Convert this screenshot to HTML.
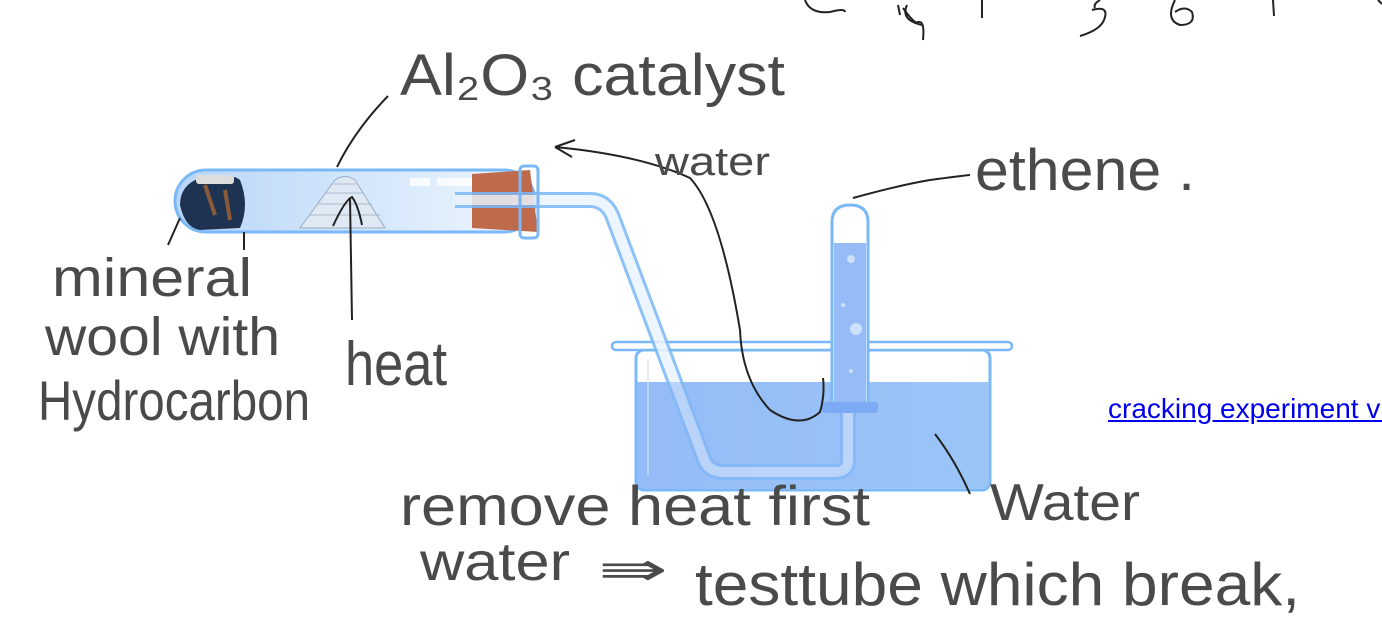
<!DOCTYPE html>
<html><head><meta charset="utf-8"><style>
html,body{margin:0;padding:0;background:#fff;width:1382px;height:624px;overflow:hidden}
svg{display:block}
.h{font-family:"DejaVu Sans ExtraLight","Liberation Sans Narrow","Liberation Sans",sans-serif;fill:#4a4a4a;font-weight:200}
a{font-family:"Liberation Sans",sans-serif;font-size:28px;color:#00e;text-decoration:underline;position:absolute;left:1108px;top:393px;white-space:nowrap}
</style></head><body>
<svg width="1382" height="624" viewBox="0 0 1382 624">
<defs>
<linearGradient id="tg" x1="0" x2="1"><stop offset="0" stop-color="#b8d6f8"/><stop offset="1" stop-color="#eef6fe"/></linearGradient>
<linearGradient id="wg" x1="0" x2="1"><stop offset="0" stop-color="#8fb8f6"/><stop offset="1" stop-color="#9ccbf6"/></linearGradient>
</defs>
<g stroke="#222" stroke-width="2" fill="none">
<path d="M805 0 Q810 14 830 12 Q845 8 845 12"/>
<path d="M898 5 L900 15"/><path d="M903 8 Q915 25 918 22 Q925 20 923 40"/><path d="M907 5 Q900 20 922 25"/>
<path d="M982 0 L982 18"/>
<path d="M1100 0 Q1093 4 1095 8"/><path d="M1092 10 Q1110 5 1104 20 Q1100 30 1080 36"/>
<path d="M1175 0 Q1165 20 1180 25 Q1196 25 1192 12 Q1185 5 1175 12"/>
<path d="M1273 0 L1274 16"/><path d="M1378 0 L1382 4"/>
</g>
<rect x="636" y="350" width="354" height="140" rx="8" fill="#fff" stroke="#7ab8f8" stroke-width="3"/>
<path d="M637 382 L989 382 L989 482 Q989 489 981 489 L645 489 Q637 489 637 482Z" fill="url(#wg)" opacity=".9"/>
<rect x="612" y="342" width="400" height="8" rx="4" fill="#fff" stroke="#7ab8f8" stroke-width="2.5"/>
<path d="M648 360 L648 475" stroke="#e4effd" stroke-width="2"/>
<rect x="175" y="170" width="360" height="62" rx="31" fill="url(#tg)" stroke="#7ab8f8" stroke-width="3"/>
<rect x="410" y="178" width="20" height="8" fill="#fff" opacity=".8"/><rect x="437" y="178" width="45" height="8" fill="#fff" opacity=".8"/>
<path d="M200 178 Q180 185 180 205 Q185 228 200 230 L240 228 Q250 205 240 180 Q230 172 200 178Z" fill="#1e3352"/>
<path d="M205 185 L215 215 M225 190 L230 220" stroke="#8a5a38" stroke-width="4"/>
<rect x="196" y="175" width="38" height="9" fill="#ddd" rx="3"/>
<path d="M300 228 L335 180 Q345 173 355 180 L385 228Z" fill="#dfe9f3" stroke="#97adc4" stroke-width="1"/>
<g stroke="#aabbd0" stroke-width="1" fill="none"><path d="M310 215 h70 M318 204 h54 M326 193 h38 M334 184 h22"/></g>
<path d="M472 174 L530 170 L538 232 L472 228Z" fill="#bf6a4a"/>
<g opacity=".85">
<path d="M455 200 L590 200 Q605 200 612 215 L705 462 Q710 472 725 472 L835 472 Q848 472 848 460 L848 405" fill="none" stroke="#7ab8f8" stroke-width="16"/>
<path d="M455 200 L590 200 Q605 200 612 215 L705 462 Q710 472 725 472 L835 472 Q848 472 848 460 L848 405" fill="none" stroke="#eaf4fe" stroke-width="10"/>
</g>
<rect x="637" y="382" width="352" height="106" fill="#8fb8f6" opacity=".45"/>
<rect x="520" y="166" width="18" height="72" rx="4" fill="none" stroke="#7ab8f8" stroke-width="3"/>
<path d="M832 410 L832 222 Q832 205 850 205 Q868 205 868 222 L868 410Z" fill="#fff" stroke="#7ab8f8" stroke-width="3"/>
<rect x="834" y="243" width="32" height="166" fill="#96bbf6"/>
<rect x="822" y="402" width="56" height="11" rx="3" fill="#7caaf4"/>
<circle cx="851" cy="259" r="4" fill="#cde0fc"/><circle cx="856" cy="329" r="6" fill="#cde0fc"/><circle cx="843" cy="305" r="2" fill="#cde0fc"/><circle cx="851" cy="371" r="2" fill="#cde0fc"/>
<g stroke="#222" stroke-width="2" fill="none">
<path d="M388 96 Q355 130 337 167"/>
<path d="M180 218 L168 245"/>
<path d="M244 232 L244 250"/>
<path d="M350 198 L352 320"/><path d="M333 226 Q345 200 352 197 Q358 205 362 225"/>
<path d="M555 147 Q640 155 690 178 Q720 210 740 330 Q742 380 770 410 Q800 430 820 412 Q825 395 823 378"/>
<path d="M555 147 L575 140 M555 147 L572 157"/>
<path d="M853 198 Q900 185 930 180 Q960 176 970 175"/>
<path d="M935 434 Q955 460 970 494"/>
</g>
<text class="h" x="400" y="95" font-size="58" textLength="385" lengthAdjust="spacingAndGlyphs">Al₂O₃ catalyst</text>
<text class="h" x="655" y="175" font-size="40" textLength="115" lengthAdjust="spacingAndGlyphs">water</text>
<text class="h" x="975" y="190" font-size="58" textLength="220" lengthAdjust="spacingAndGlyphs">ethene .</text>
<text class="h" x="52" y="296" font-size="54" textLength="200" lengthAdjust="spacingAndGlyphs">mineral</text>
<text class="h" x="45" y="355" font-size="54" textLength="235" lengthAdjust="spacingAndGlyphs">wool with</text>
<text class="h" x="38" y="420" font-size="56" textLength="272" lengthAdjust="spacingAndGlyphs">Hydrocarbon</text>
<text class="h" x="345" y="385" font-size="62" textLength="102" lengthAdjust="spacingAndGlyphs">heat</text>
<text class="h" x="400" y="525" font-size="56" textLength="470" lengthAdjust="spacingAndGlyphs">remove heat first</text>
<text class="h" x="990" y="520" font-size="52" textLength="150" lengthAdjust="spacingAndGlyphs">Water</text>
<text class="h" x="420" y="580" font-size="54" textLength="150" lengthAdjust="spacingAndGlyphs">water</text>
<text class="h" x="598" y="585" font-size="46" textLength="70" lengthAdjust="spacingAndGlyphs">⇛</text>
<text class="h" x="695" y="605" font-size="60" textLength="605" lengthAdjust="spacingAndGlyphs">testtube which break,</text>
</svg>
<a>cracking experiment video</a>
</body></html>
